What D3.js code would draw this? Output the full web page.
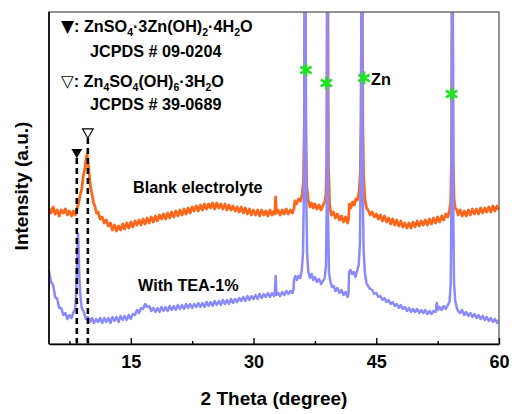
<!DOCTYPE html>
<html>
<head>
<meta charset="utf-8">
<script src="https://cdn.jsdelivr.net/npm/d3@7"></script>
<style>
  body { margin: 0; background: #fff; }
  text { font-family: "Liberation Sans", Arial, sans-serif; font-weight: bold; }
</style>
</head>
<body>
<svg></svg>
<script>
// Declare the chart dimensions and margins.
const width = 512;
const height = 414;
const marginTop = 12;
const marginRight = 13;
const marginBottom = 70;
const marginLeft = 49;

// XRD pattern, blank electrolyte: [2theta, intensity]
const blankPattern = [
  [5.00,136],[5.25,131],[5.50,137],[5.75,130],[6.00,134],[6.25,128],[6.50,134],[6.75,131],
  [7.00,135],[7.25,129],[7.50,133],[7.75,128],[8.00,133],[8.20,129],[8.39,135],[8.60,140],
  [8.79,148],[9.00,155],[9.19,168],[9.40,176],[9.55,186],[9.65,190],[9.75,183],[9.85,176],
  [10.00,162],[10.15,154],[10.30,148],[10.45,141],[10.60,138],[10.80,131],[11.00,132],[11.25,125],
  [11.50,127],[11.75,121],[12.00,124],[12.25,118],[12.50,121],[12.75,114],[13.00,119],[13.25,113],
  [13.50,118],[13.75,114],[14.00,120],[14.25,115],[14.50,121],[14.75,116],[15.00,122],[15.25,117],
  [15.50,123],[15.75,119],[16.00,124],[16.25,119],[16.50,125],[16.75,120],[17.00,126],[17.25,121],
  [17.50,127],[17.75,122],[18.00,128],[18.25,123],[18.50,129],[18.75,125],[19.00,130],[19.25,125],
  [19.50,131],[19.75,126],[20.00,132],[20.25,127],[20.50,133],[20.75,128],[21.00,134],[21.25,129],
  [21.50,135],[21.75,130],[22.00,136],[22.25,131],[22.50,137],[22.75,133],[23.00,138],[23.25,133],
  [23.50,139],[23.75,134],[24.00,140],[24.25,135],[24.50,140],[24.75,136],[25.00,141],[25.25,135],
  [25.50,141],[25.75,136],[26.00,140],[26.25,135],[26.50,140],[26.75,134],[27.00,139],[27.25,134],
  [27.50,138],[27.75,133],[28.00,137],[28.25,132],[28.50,137],[28.75,131],[29.00,136],[29.25,130],
  [29.50,135],[29.75,129],[30.00,134],[30.25,129],[30.50,134],[30.75,128],[31.00,134],[31.25,129],
  [31.50,133],[31.75,128],[32.00,134],[32.25,129],[32.50,133],[32.60,130],[32.70,147],[32.80,131],
  [33.00,134],[33.25,129],[33.50,134],[33.75,130],[34.00,135],[34.25,130],[34.50,134],[34.75,131],
  [34.95,136],[35.05,143],[35.25,140],[35.50,145],[35.75,143],[35.95,150],[36.10,162],[36.20,215],
  [36.30,450],[36.40,210],[36.50,158],[36.70,143],[36.90,137],[37.10,141],[37.30,136],[37.50,140],
  [37.75,135],[38.00,139],[38.25,134],[38.50,139],[38.70,142],[38.85,150],[38.95,185],[39.05,450],
  [39.15,180],[39.30,139],[39.50,129],[39.75,132],[40.00,126],[40.25,130],[40.50,124],[40.75,128],
  [41.00,122],[41.25,127],[41.50,121],[41.62,125],[41.70,140],[41.90,136],[42.10,142],[42.30,139],
  [42.50,145],[42.70,144],[42.90,152],[43.05,172],[43.15,230],[43.25,450],[43.35,225],[43.45,168],
  [43.60,146],[43.80,136],[44.00,134],[44.25,129],[44.50,132],[44.75,127],[45.00,130],[45.25,125],
  [45.50,129],[45.75,123],[46.00,128],[46.25,122],[46.50,126],[46.75,120],[47.00,125],[47.25,119],
  [47.50,124],[47.75,118],[48.00,123],[48.25,117],[48.50,121],[48.75,116],[49.00,121],[49.25,116],
  [49.50,122],[49.75,117],[50.00,123],[50.25,118],[50.50,123],[50.75,119],[51.00,124],[51.25,119],
  [51.50,125],[51.75,120],[52.00,126],[52.25,121],[52.50,127],[52.75,122],[53.00,128],[53.25,124],
  [53.50,130],[53.75,127],[53.95,134],[54.10,142],[54.20,190],[54.30,450],[54.40,185],[54.50,145],
  [54.65,136],[54.85,134],[55.00,129],[55.25,134],[55.50,128],[55.75,133],[56.00,128],[56.25,134],
  [56.50,129],[56.75,135],[57.00,130],[57.25,135],[57.50,130],[57.75,136],[58.00,131],[58.25,136],
  [58.50,132],[58.75,137],[59.00,132],[59.25,138],[59.50,133],[59.75,138],[60.00,134]
];

// XRD pattern, with TEA-1%: [2theta, intensity]
const teaPattern = [
  [5.00,73],[5.25,62],[5.50,59],[5.75,47],[6.00,45],[6.25,36],[6.50,36],[6.75,29],
  [7.00,31],[7.25,25],[7.50,29],[7.75,26],[8.00,32],[8.20,35],[8.30,48],[8.42,80],
  [8.50,104],[8.55,110],[8.62,94],[8.72,64],[8.85,47],[9.00,36],[9.25,32],[9.50,25],
  [9.75,27],[10.00,22],[10.25,26],[10.50,21],[10.75,25],[11.00,22],[11.25,26],[11.50,21],
  [11.75,26],[12.00,22],[12.25,26],[12.50,21],[12.75,27],[13.00,23],[13.25,27],[13.50,22],
  [13.75,28],[14.00,24],[14.25,28],[14.50,24],[14.75,29],[15.00,25],[15.25,30],[15.50,29],
  [15.75,34],[16.00,31],[16.25,36],[16.50,35],[16.75,40],[17.00,37],[17.25,38],[17.50,33],
  [17.75,36],[18.00,32],[18.25,36],[18.50,32],[18.75,37],[19.00,33],[19.25,37],[19.50,33],
  [19.75,38],[20.00,34],[20.25,38],[20.50,34],[20.75,39],[21.00,35],[21.25,39],[21.50,35],
  [21.75,40],[22.00,36],[22.25,40],[22.50,36],[22.75,40],[23.00,37],[23.25,41],[23.50,37],
  [23.75,41],[24.00,37],[24.25,42],[24.50,38],[24.75,42],[25.00,38],[25.25,43],[25.50,39],
  [25.75,43],[26.00,39],[26.25,44],[26.50,40],[26.75,44],[27.00,40],[27.25,45],[27.50,41],
  [27.75,45],[28.00,42],[28.25,46],[28.50,43],[28.75,47],[29.00,43],[29.25,48],[29.50,44],
  [29.75,48],[30.00,45],[30.25,49],[30.50,45],[30.75,50],[31.00,46],[31.25,50],[31.50,47],
  [31.75,51],[32.00,47],[32.25,51],[32.50,48],[32.60,50],[32.70,68],[32.80,49],[33.00,51],
  [33.25,48],[33.50,52],[33.75,49],[34.00,53],[34.25,50],[34.50,53],[34.75,51],[34.88,54],
  [34.95,64],[35.10,68],[35.30,64],[35.50,68],[35.70,66],[35.90,74],[36.05,92],[36.18,170],
  [36.30,450],[36.42,160],[36.55,90],[36.70,72],[36.90,66],[37.10,70],[37.30,64],[37.50,67],
  [37.75,62],[38.00,65],[38.25,60],[38.50,63],[38.70,66],[38.85,78],[38.95,140],[39.02,450],
  [39.10,130],[39.22,72],[39.40,62],[39.60,57],[39.80,58],[40.00,53],[40.25,56],[40.50,51],
  [40.75,54],[41.00,49],[41.25,52],[41.50,47],[41.60,50],[41.68,72],[41.85,74],[42.05,70],
  [42.25,72],[42.45,67],[42.65,73],[42.85,79],[43.00,100],[43.12,190],[43.22,450],[43.32,170],
  [43.45,95],[43.60,72],[43.80,61],[44.00,58],[44.25,55],[44.50,54],[44.75,50],[45.00,51],
  [45.25,47],[45.50,48],[45.75,44],[46.00,46],[46.25,42],[46.50,44],[46.75,40],[47.00,42],
  [47.25,38],[47.50,40],[47.75,36],[48.00,39],[48.25,35],[48.50,37],[48.75,33],[49.00,36],
  [49.25,32],[49.50,35],[49.75,32],[50.00,35],[50.25,31],[50.50,34],[50.75,31],[51.00,34],
  [51.25,30],[51.50,33],[51.75,30],[52.00,33],[52.25,32],[52.40,41],[52.55,34],[52.75,37],
  [53.00,34],[53.25,38],[53.50,35],[53.75,39],[53.95,42],[54.10,60],[54.20,150],[54.30,450],
  [54.40,140],[54.50,62],[54.65,43],[54.85,36],[55.00,33],[55.25,31],[55.50,34],[55.75,29],
  [56.00,32],[56.25,28],[56.50,31],[56.75,27],[57.00,30],[57.25,26],[57.50,29],[57.75,25],
  [58.00,28],[58.25,24],[58.50,27],[58.75,23],[59.00,26],[59.25,22],[59.50,25],[59.75,21],
  [60.00,24]
];

// Zn reflections (green asterisks)
const znTheta = [36.4, 38.9, 43.5, 54.2];
const znMark = [274, 261, 266, 250];

// basic zinc sulfate reflections: filled = ZnSO4·3Zn(OH)2·4H2O, open = Zn4SO4(OH)6·3H2O
const refTheta = [8.4, 9.75];
const refTop = [186, 206];
const refMark = [192, 212];
const refFilled = [true, false];

const majorTicks = [15, 30, 45, 60];
const minorTicks = [7.5, 22.5, 37.5, 52.5];

// Create the SVG container.
const svg = d3.select("svg")
    .attr("width", width)
    .attr("height", height)
    .attr("viewBox", [0, 0, width, height]);

svg.append("rect").attr("width", width).attr("height", height).attr("fill", "#fff");

const x = d3.scaleLinear([5, 60], [marginLeft, width - marginRight]);
const y = d3.scaleLinear([0, 332], [height - marginBottom, marginTop]);

svg.append("clipPath").attr("id", "plot")
  .append("rect")
    .attr("x", marginLeft).attr("y", marginTop)
    .attr("width", width - marginLeft - marginRight)
    .attr("height", height - marginTop - marginBottom);

const line = d3.line()
    .x(d => x(d[0]))
    .y(d => y(d[1]));

const traces = svg.append("g").attr("clip-path", "url(#plot)");

traces.append("path")
    .datum(blankPattern)
    .attr("fill", "none")
    .attr("stroke", "#ff661a")
    .attr("stroke-width", 2.8)
    .attr("stroke-linejoin", "round")
    .attr("d", line);

traces.append("path")
    .datum(teaPattern)
    .attr("fill", "none")
    .attr("stroke", "#8a8aff")
    .attr("stroke-width", 2.5)
    .attr("stroke-linejoin", "round")
    .attr("d", line);

// dashed reference lines and triangles
svg.append("g")
  .selectAll("line")
  .data(refTheta)
  .join("line")
    .attr("x1", d => x(d)).attr("x2", d => x(d))
    .attr("y1", (d, i) => y(refTop[i]))
    .attr("y2", y(0))
    .attr("stroke", "#000")
    .attr("stroke-width", 2.6)
    .attr("stroke-dasharray", "6,4");

svg.append("g")
  .selectAll("path")
  .data(refTheta)
  .join("path")
    .attr("transform", (d, i) => `translate(${x(d)},${y(refMark[i])}) rotate(180)`)
    .attr("d", d3.symbol(d3.symbolTriangle, 50))
    .attr("fill", (d, i) => refFilled[i] ? "#000" : "#fff")
    .attr("stroke", "#000")
    .attr("stroke-width", (d, i) => refFilled[i] ? 0 : 1.1);

// Zn asterisks
svg.append("g")
  .selectAll("path")
  .data(znTheta)
  .join("path")
    .attr("transform", (d, i) => `translate(${x(d)},${y(znMark[i])})`)
    .attr("d", d3.symbol(d3.symbolAsterisk, 120))
    .attr("fill", "none")
    .attr("stroke", "#19e619")
    .attr("stroke-width", 2.6);

svg.append("text")
    .attr("x", x(43.5) + 7).attr("y", 85)
    .attr("font-size", 16.2)
    .text("Zn");

// Frame
svg.append("rect")
    .attr("x", marginLeft).attr("y", marginTop)
    .attr("width", width - marginLeft - marginRight)
    .attr("height", height - marginTop - marginBottom)
    .attr("fill", "none")
    .attr("stroke", "#666")
    .attr("stroke-width", 1.4);

// Add the x-axis.
svg.append("g")
    .attr("transform", `translate(0,${height - marginBottom})`)
    .call(d3.axisBottom(x).tickValues(minorTicks).tickSizeInner(-3).tickSizeOuter(0).tickFormat(""))
    .call(g => g.select(".domain").remove())
    .call(g => g.selectAll(".tick line").attr("stroke-width", 1.4));

svg.append("g")
    .attr("transform", `translate(0,${height - marginBottom})`)
    .call(d3.axisBottom(x).tickValues(majorTicks).tickSizeInner(-6).tickSizeOuter(0).tickPadding(11))
    .call(g => g.select(".domain").attr("stroke", "#000").attr("stroke-width", 1.6))
    .call(g => g.selectAll(".tick line").attr("stroke-width", 1.4))
    .call(g => g.selectAll(".tick text")
        .attr("font-size", 18)
        .attr("font-family", "Liberation Sans, Arial, sans-serif")
        .attr("font-weight", "bold")
        .attr("fill", "#000"));

// left axis line
svg.append("line")
    .attr("x1", marginLeft).attr("x2", marginLeft)
    .attr("y1", marginTop).attr("y2", height - marginBottom)
    .attr("stroke", "#000")
    .attr("stroke-width", 1.6);

// Axis titles
svg.append("text")
    .attr("x", (marginLeft + width - marginRight) / 2)
    .attr("y", 405)
    .attr("text-anchor", "middle")
    .attr("font-size", 19)
    .text("2 Theta (degree)");

svg.append("text")
    .attr("transform", "translate(28,186) rotate(-90)")
    .attr("text-anchor", "middle")
    .attr("font-size", 19)
    .text("Intensity (a.u.)");

// Legend with subscripts: [text, subscript?, symbol size]
function chem(sel, parts) {
  let sub = false;
  parts.forEach(p => {
    const t = sel.append("tspan").text(p[0]);
    if (p[2]) t.attr("font-family", "DejaVu Sans").attr("font-size", p[2]);
    if (p[1]) t.attr("font-size", 10.5).attr("dy", sub ? 0 : 4);
    else if (sub) t.attr("dy", -4);
    sub = !!p[1];
  });
}

const legend = svg.append("g").attr("font-size", 16.2);

chem(legend.append("text").attr("x", 61).attr("y", 32),
  [["▼", 0, 17], [": ZnSO"], ["4", 1], ["·3Zn(OH)"], ["2", 1], ["·4H"], ["2", 1], ["O"]]);
legend.append("text").attr("x", 90).attr("y", 57).text("JCPDS # 09-0204");
chem(legend.append("text").attr("x", 61).attr("y", 87),
  [["▽", 0, 16.5], [": Zn"], ["4", 1], ["SO"], ["4", 1], ["(OH)"], ["6", 1], ["·3H"], ["2", 1], ["O"]]);
legend.append("text").attr("x", 90).attr("y", 110).text("JCPDS # 39-0689");

svg.append("text").attr("x", 133).attr("y", 192.5).attr("font-size", 16.2).text("Blank electrolyte");
svg.append("text").attr("x", 138).attr("y", 290.5).attr("font-size", 16.2).text("With TEA-1%");
</script>
</body>
</html>
